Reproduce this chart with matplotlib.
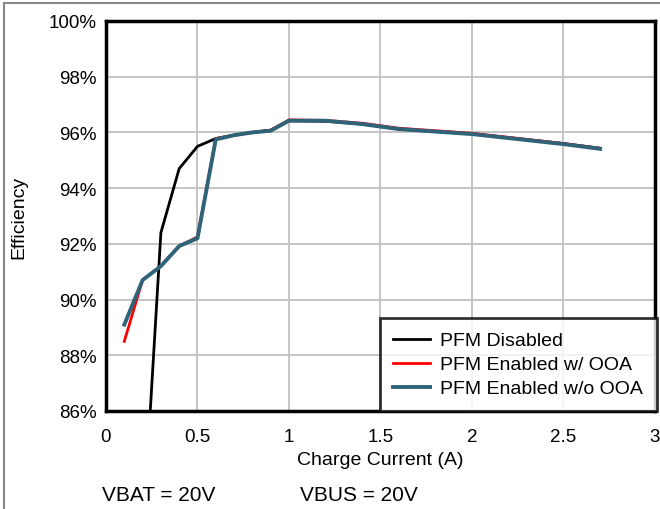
import matplotlib.pyplot as plt
from matplotlib.lines import Line2D
from matplotlib.ticker import FuncFormatter

plt.rcParams['font.family'] = ['Liberation Sans', 'DejaVu Sans']

# Efficiency data (%)
current = [0.1, 0.2, 0.3, 0.4, 0.5, 0.6, 0.7, 0.8, 0.9, 1.0, 1.2, 1.4, 1.6, 2.0, 2.5, 2.7]
pfm_disabled = [None, 81.4, 92.4, 94.7, 95.5, 95.78, 95.9, 96.0, 96.08, 96.42, 96.4, 96.3, 96.12, 95.95, 95.6, 95.43]
pfm_ooa = [88.5, 90.7, 91.2, 91.92, 92.25, 95.78, 95.9, 96.0, 96.08, 96.45, 96.43, 96.33, 96.15, 95.97, 95.6, 95.43]
pfm_no_ooa = [89.1, 90.7, 91.2, 91.92, 92.2, 95.75, 95.9, 96.0, 96.06, 96.42, 96.42, 96.3, 96.12, 95.94, 95.58, 95.41]

x_d = [c for c, v in zip(current, pfm_disabled) if v is not None]
y_d = [v for v in pfm_disabled if v is not None]

fig = plt.figure(figsize=(6.6, 5.1), dpi=100)
ax = fig.add_axes([0.1606, 0.1922, 0.8318, 0.7647])

ax.plot(x_d, y_d, color='black', lw=2, label='PFM Disabled')
ax.plot(current, pfm_ooa, color='#ff0000', lw=2, label='PFM Enabled w/ OOA')
ax.plot(current, pfm_no_ooa, color='#2f6378', lw=2.8, label='PFM Enabled w/o OOA')

ax.set_xlim(0, 3)
ax.set_ylim(86, 100)
ax.set_xticks([0, 0.5, 1, 1.5, 2, 2.5, 3])
ax.set_xticklabels(['0', '0.5', '1', '1.5', '2', '2.5', '3'])
ax.set_yticks(range(86, 101, 2))
ax.yaxis.set_major_formatter(FuncFormatter(lambda v, p: f'{v:.0f}%'))
ax.tick_params(length=0, labelsize=13.5)
ax.tick_params(axis='x', pad=12)
ax.tick_params(axis='y', pad=7)
ax.grid(color='#c0c0c0', lw=1.3)
for s in ax.spines.values():
    s.set_linewidth(2.5)
    s.set_color('black')

ax.set_xlabel('Charge Current (A)', fontsize=14, labelpad=4.5)
ax.set_ylabel('Efficiency', fontsize=14, labelpad=15)

leg = ax.legend(loc='lower right', fontsize=14, frameon=True, fancybox=False,
                borderaxespad=0, handlelength=1.9, handletextpad=0.5,
                labelspacing=0.33, borderpad=0.7,
                bbox_to_anchor=(1.003, 0))
leg.get_frame().set_edgecolor('black')
leg.get_frame().set_linewidth(2)

fig.text(0.155, 0.0294, 'VBAT = 20V', fontsize=15, va='center')
fig.text(0.455, 0.0294, 'VBUS = 20V', fontsize=15, va='center')

# grey frame lines along top and left edge
fig.add_artist(Line2D([0.006, 0.006], [0, 0.993], color='#888888', lw=1.5))
fig.add_artist(Line2D([0.006, 1], [0.993, 0.993], color='#888888', lw=1.5))

fig.savefig('out.png')
